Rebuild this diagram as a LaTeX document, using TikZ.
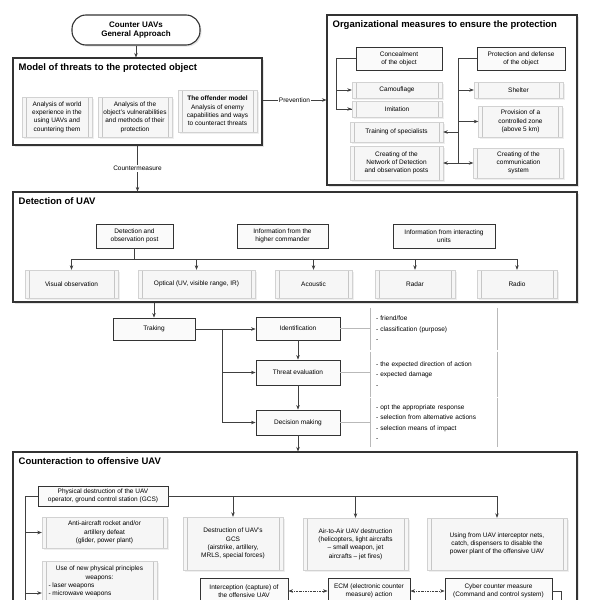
\documentclass[tikz,border=0pt]{standalone}
\usepackage{fontspec}
\setmainfont{Liberation Sans}
\usetikzlibrary{arrows.meta,shadows}
\newcommand{\smalltxt}{\fontsize{6.5}{8.3}\selectfont}
\newcommand{\notetxt}{\fontsize{6.5}{10.5}\selectfont}
\newcommand{\titletxt}{\fontsize{9.5}{11}\selectfont\bfseries}
\begin{document}
\begin{tikzpicture}[x=1pt,y=-1pt,>={Stealth[length=4.5pt,width=3.5pt]}]
        \tikzstyle{every node}=[font=\smalltxt, align=center, inner sep=1pt];
        \tikzstyle{frame}=[draw=black!80, line width=1.1pt, fill=white, drop shadow={opacity=0.2,shadow xshift=1.5pt,shadow yshift=-1.5pt}];
        \tikzstyle{heading}=[font=\titletxt, anchor=north west, inner sep=0pt];
        \tikzstyle{keybox}=[draw=black!80, line width=0.9pt, fill=gray!4, drop shadow={opacity=0.25,shadow xshift=1pt,shadow yshift=-1pt}];
        \tikzstyle{softbox}=[draw=gray!35, fill=gray!7, drop shadow={opacity=0.12,shadow xshift=1.5pt,shadow yshift=-1.5pt},
          path picture={\draw[gray!45] ([xshift=4pt]path picture bounding box.north west) -- ([xshift=4pt]path picture bounding box.south west)
            ([xshift=-4pt]path picture bounding box.north east) -- ([xshift=-4pt]path picture bounding box.south east);}];
        \tikzstyle{notebox}=[font=\notetxt, align=left, text width=115pt, inner xsep=6pt, minimum width=127pt];
        \tikzstyle{wire}=[draw=black!75, line width=0.6pt];
        \tikzstyle{pale}=[draw=gray!55, line width=0.5pt];
        \tikzstyle{dotwire}=[wire, dash pattern=on 2pt off 1pt on 0.6pt off 1pt];
        \fill[white] (0,0) rectangle (600,600);
        \useasboundingbox (0,0) rectangle (600,600);
        % general approach
        \node[frame, rounded corners=14pt, minimum width=128pt, minimum height=30pt, font=\fontsize{8}{9.5}\selectfont\bfseries] (start) at (136,30) {Counter UAVs\\General Approach};
        % model of threats
        \node[frame, minimum width=249pt, minimum height=87pt] (threats) at (137.5,101.5) {};
        \node[heading] (threatsT) at ([xshift=6pt,yshift=-6pt]threats.north west) {Model of threats to the protected object};
        \node[softbox, minimum width=70pt, minimum height=40pt] (world) at (57,117) {Analysis of world\\experience in the\\using UAVs and\\countering them};
        \node[softbox, minimum width=74pt, minimum height=40pt] (vuln) at (135,117) {Analysis of the\\object's vulnerabilities\\and methods of their\\protection};
        \node[softbox, minimum width=79pt, minimum height=42pt] (offender) at (217.5,111) {\textbf{The offender model}\\Analysis of enemy\\capabilities and ways\\to counteract threats};
        % organizational measures
        \node[frame, minimum width=250pt, minimum height=170pt] (org) at (452,100) {};
        \node[heading] (orgT) at ([xshift=6pt,yshift=-6pt]org.north west) {Organizational measures to ensure the protection};
        \node[keybox, minimum width=86pt, minimum height=23pt] (conceal) at (399,58.5) {Concealment\\of the object};
        \node[keybox, minimum width=88pt, minimum height=23pt] (protect) at (521,58.5) {Protection and defense\\of the object};
        \node[softbox, minimum width=90pt, minimum height=16pt] (camo) at (397,90) {Camouflage};
        \node[softbox, minimum width=90pt, minimum height=16pt] (imit) at (397,109) {Imitation};
        \node[softbox, minimum width=93pt, minimum height=20pt] (train) at (396.5,132) {Training of specialists};
        \node[softbox, minimum width=93pt, minimum height=34pt] (network) at (396.5,163) {Creating of the\\Network of Detection\\and observation posts};
        \node[softbox, minimum width=89pt, minimum height=16pt] (shelter) at (518.5,90) {Shelter};
        \node[softbox, minimum width=84pt, minimum height=31pt] (provision) at (520.5,121.5) {Provision of a\\controlled zone\\(above 5 km)};
        \node[softbox, minimum width=90pt, minimum height=30pt] (comm) at (518.5,163) {Creating of the\\communication\\system};
        \coordinate (trunk) at (458,58.5);
        \draw[wire] (conceal.west) -- ++(-19,0) coordinate (cbr) |- (imit.west);
        \draw[wire, ->] (cbr |- camo.west) -- (camo.west);
        \draw[wire, ->] (cbr |- imit.west) -- (imit.west);
        \draw[wire] (protect.west) -- (trunk) -- (trunk |- comm.west);
        \draw[wire, ->] (trunk |- shelter.west) -- (shelter.west);
        \draw[wire, ->] (trunk |- provision.west) -- (provision.west);
        \draw[wire, ->] (trunk |- train.east) -- (train.east);
        \draw[wire, <->] (network.east) -- (comm.west);
        \draw[wire, ->] (start.south) -- (start.south |- threats.north);
        \draw[wire, ->] (threats.east |- org.west) -- node[fill=white] (prev) {Prevention} (org.west);
        % detection
        \node[frame, minimum width=564pt, minimum height=110pt] (detect) at (295,247) {};
        \node[heading] (detectT) at ([xshift=6pt,yshift=-6pt]detect.north west) {Detection of UAV};
        \draw[wire, ->] (threats.south) -- node[fill=white] (cm) {Countermeasure} (threats.south |- detect.north);
        \node[keybox, minimum width=77pt, minimum height=24pt] (post) at (134.5,236) {Detection and\\observation post};
        \node[keybox, minimum width=91pt, minimum height=24pt] (higher) at (282.5,236) {Information from the\\higher commander};
        \node[keybox, minimum width=102pt, minimum height=24pt] (interact) at (444,236) {Information from interacting\\units};
        \node[softbox, minimum width=93pt, minimum height=28pt] (visual) at (71.5,284) {Visual observation};
        \node[softbox, minimum width=117pt, minimum height=28pt] (optical) at (196.5,284) {Optical (UV, visible range, IR)};
        \node[softbox, minimum width=77pt, minimum height=28pt] (acoustic) at (313.5,284) {Acoustic};
        \node[softbox, minimum width=80pt, minimum height=28pt] (radar) at (415,284) {Radar};
        \node[softbox, minimum width=80pt, minimum height=28pt] (radio) at (517,284) {Radio};
        \coordinate (bus) at (134.5,259);
        \draw[wire] (post.south) -- (bus);
        \draw[wire] (visual.north |- bus) -- (radio.north |- bus);
        \foreach \s in {visual,optical,acoustic,radar,radio}
          \draw[wire, ->] (\s.north |- bus) -- (\s.north);
        % decision chain
        \node[keybox, minimum width=82pt, minimum height=22pt] (tracking) at (154,329) {Traking};
        \node[keybox, minimum width=84pt, minimum height=23pt] (ident) at (298,328.5) {Identification};
        \node[keybox, minimum width=84pt, minimum height=25pt] (threat) at (298,372.5) {Threat evaluation};
        \node[keybox, minimum width=84pt, minimum height=25pt] (decide) at (298,422.5) {Decision making};
        \draw[wire, ->] (tracking.north |- detect.south) -- (tracking.north);
        \coordinate (tk) at (222,329);
        \draw[wire, ->] (tracking.east) -- (tracking.east -| ident.west);
        \draw[wire, ->] (tk) |- (threat.west);
        \draw[wire, ->] (tk) |- (decide.west);
        \draw[wire, ->] (ident.south) -- (threat.north);
        \draw[wire, ->] (threat.south) -- (decide.north);
        \node[notebox, minimum height=42pt] (note1) at (433.5,329) {- friend/foe\\- classification (purpose)\\-};
        \node[notebox, minimum height=45pt] (note2) at (433.5,374.5) {- the expected direction of action\\- expected damage\\-};
        \node[notebox, minimum height=49pt] (note3) at (433.5,422.5) {- opt the appropriate response\\- selection from alternative actions\\- selection means of impact\\-};
        \foreach \n in {note1,note2,note3}
          \draw[pale] (\n.north west) -- (\n.south west) (\n.north east) -- (\n.south east);
        \draw[pale] (ident.east) -- (note1.west |- ident.east);
        \draw[pale] (threat.east) -- (note2.west |- threat.east);
        \draw[pale] (decide.east) -- (note3.west |- decide.east);
        % counteraction
        \node[frame, minimum width=564pt, minimum height=168pt] (counter) at (295,536) {};
        \node[heading] (counterT) at ([xshift=6pt,yshift=-6pt]counter.north west) {Counteraction to offensive UAV};
        \draw[wire, ->] (decide.south) -- (decide.south |- counter.north);
        \node[keybox, minimum width=130pt, minimum height=20pt] (phys) at (103,496) {Physical destruction of the UAV\\operator, ground control station (GCS)};
        \node[softbox, minimum width=125pt, minimum height=31pt] (aa) at (104.5,532.5) {Anti-aircraft rocket and/or\\artillery defeat\\(glider, power plant)};
        \node[softbox, minimum width=115pt, minimum height=40pt] (npp) at (99.5,581.5) {Use of new physical principles\\weapons:\\\makebox[102pt][l]{- laser weapons}\\\makebox[102pt][l]{- microwave weapons}};
        \node[softbox, minimum width=100pt, minimum height=53pt] (gcs) at (233,543.5) {Destruction of UAV's\\GCS\\(airstrike, artillery,\\MRLS, special forces)};
        \node[softbox, minimum width=105pt, minimum height=52pt] (air) at (355.5,544) {Air-to-Air UAV destruction\\(helicopters, light aircrafts\\-- small weapon, jet\\aircrafts -- jet fires)};
        \node[softbox, minimum width=140pt, minimum height=52pt] (nets) at (497,544) {Using from UAV interceptor nets,\\catch, dispensers to disable the\\power plant of the offensive UAV};
        \node[keybox, minimum width=88pt, minimum height=26pt] (intercept) at (244,591) {Interception (capture) of\\the offensive UAV};
        \node[keybox, minimum width=82pt, minimum height=26pt] (ecm) at (369,591) {ECM (electronic counter\\measure) action};
        \node[keybox, minimum width=107pt, minimum height=26pt] (cyber) at (498.5,591) {Cyber counter measure\\(Command and control system)};
        \draw[wire] (phys.east) -- (phys.east -| nets.north);
        \foreach \t in {gcs,air,nets}
          \draw[wire, ->] (phys.east -| \t.north) -- (\t.north);
        \draw[wire] (phys.west) -- ++(-12,0) coordinate (pl) -- ++(0,120);
        \draw[wire, ->] (pl |- aa.west) -- (aa.west);
        \draw[wire, ->] (pl |- 0,593) -- (npp.west |- 0,593);
        \draw[dotwire, <->] (intercept.east) -- (ecm.west);
        \draw[dotwire, <->] (ecm.east) -- (cyber.west);
        \draw[wire] (cyber.east) -- ++(9,0) -- ++(0,20);
\end{tikzpicture}
\end{document}
